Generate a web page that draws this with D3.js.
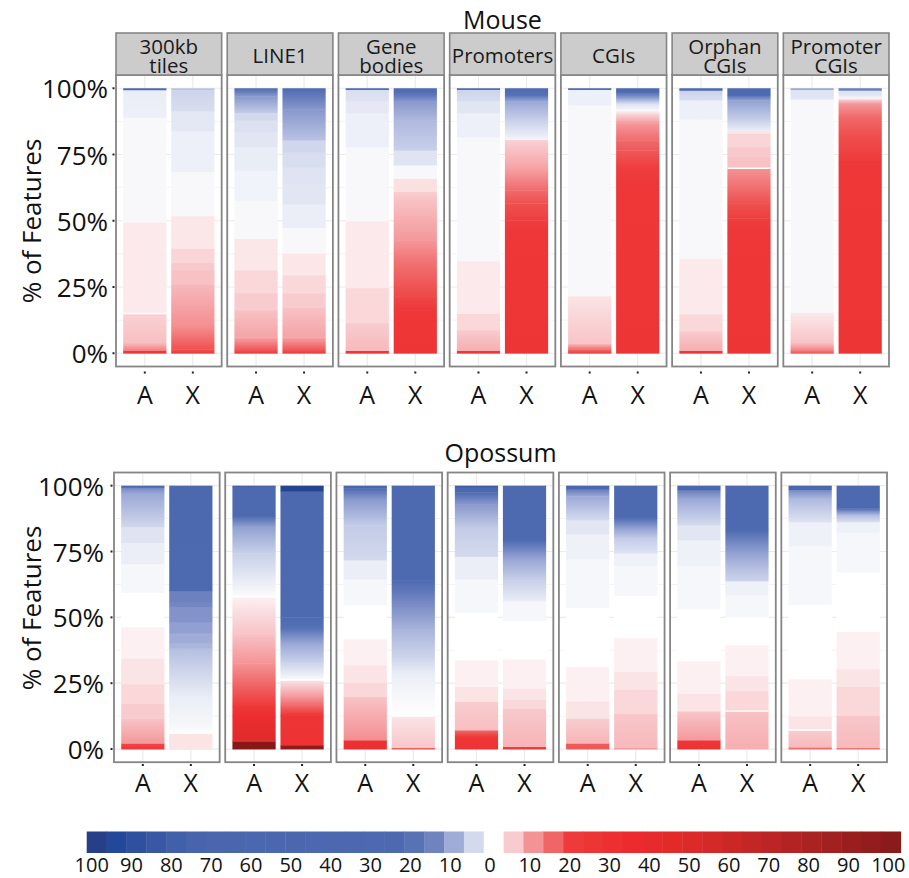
<!DOCTYPE html>
<html>
<head>
<meta charset="utf-8">
<script src="https://cdn.jsdelivr.net/npm/d3@7"></script>
<style>
  body { margin: 0; background: #fff; }
  svg { display: block; font-family: "Open Sans", "Noto Sans", sans-serif; }
</style>
</head>
<body>
<svg id="chart" width="909" height="878"></svg>
<script>
// ---- data ----
const species = ['Mouse', 'Opossum'];
const features = [['300kb', 'tiles'], ['LINE1'], ['Gene', 'bodies'], ['Promoters'], ['CGIs'], ['Orphan', 'CGIs'], ['Promoter', 'CGIs']];
const chromosomes = ['A', 'X'];
const yTicks = [0, 0.25, 0.5, 0.75, 1];
const legendTicks = [-100, -90, -80, -70, -60, -50, -40, -30, -20, -10, 0, 10, 20, 30, 40, 50, 60, 70, 80, 90, 100];

// each bar: knots [cumulative % from bottom, value]; value < 0 blue, > 0 red
const mouseA = [
  [[0,20],[1,20],[1,10],[4,3.5],[15,2],[15,0.8],[49.5,0.8],[49.5,-0.25],[89,-0.25],[89,-1],[99.4,-1.2],[99.4,-20],[100,-20]],
  [[0,20],[1,15],[6,6],[16.3,3.2],[16.3,2.5],[22.8,2.5],[22.8,1.6],[31.4,1.6],[31.4,0.9],[43.3,0.9],[43.3,-0.25],[57.6,-0.25],[57.6,-0.8],[69,-0.8],[69,-1.2],[77.9,-1.2],[77.9,-1.6],[83.5,-1.6],[83.5,-2],[88,-2],[88,-2.6],[90.8,-2.6],[90.8,-4],[97,-10],[100,-20]],
  [[0,20],[1,20],[1,4],[11.5,2.4],[11.5,1.6],[24.7,1.6],[24.7,0.8],[49.9,0.8],[49.9,-0.25],[77.9,-0.25],[77.9,-1],[90.7,-1],[90.7,-1.4],[95.1,-1.4],[95.1,-1.8],[99.5,-2.2],[99.5,-20],[100,-20]],
  [[0,20],[1,20],[1,5],[8.8,2.4],[8.8,1.6],[15,1.6],[15,0.8],[34.8,0.8],[34.8,-0.25],[81.6,-0.25],[81.6,-1],[90.7,-1],[90.7,-1.6],[95.1,-1.6],[95.1,-2.2],[99.5,-3],[99.5,-20],[100,-20]],
  [[0,18],[1.5,12],[3.8,3],[21.6,1],[21.6,-0.25],[93.6,-0.25],[93.6,-1],[99.5,-1],[99.5,-20],[100,-20]],
  [[0,20],[1,20],[1,5],[8.4,2.4],[8.4,1.6],[14.8,1.6],[14.8,0.8],[35.8,0.8],[35.8,-0.25],[88.3,-0.25],[88.3,-1],[95.5,-1],[95.5,-2],[99.2,-3.5],[99.2,-20],[100,-20]],
  [[0,15],[1,10],[4,3],[15.4,0.8],[15.4,-0.25],[95.8,-0.25],[95.8,-1.5],[99.5,-2],[99.5,-8],[100,-8]]
];
const mouseX = [
  [[0,20],[1.5,15],[10,8],[26.1,4],[26.1,3.2],[31.4,3.2],[31.4,2.6],[34.2,2.6],[34.2,1.8],[39.6,1.8],[39.6,0.9],[51.8,0.9],[51.8,-0.25],[68.5,-0.25],[68.5,-1],[83.8,-1],[83.8,-1.5],[91.4,-1.5],[91.4,-2.2],[99.5,-3],[99.5,-5],[100,-5]],
  [[0,20],[1,15],[6,6],[17.2,3.2],[17.2,2.5],[22.7,2.5],[22.7,1.6],[29.5,1.6],[29.5,0.9],[37.8,0.9],[37.8,-0.25],[47.4,-0.25],[47.4,-1.1],[56.3,-1.1],[56.3,-1.6],[64.3,-1.6],[64.3,-1.8],[70.3,-1.8],[70.3,-2.2],[76,-2.2],[76,-2.8],[80.4,-2.8],[80.4,-5],[92,-10],[100,-20]],
  [[0,22],[16.3,20],[21.4,16],[34.8,11],[42.7,7],[58,3.2],[61,2.2],[61,1.2],[66,1.2],[66,-0.25],[71,-0.25],[71,-1.8],[76.6,-1.8],[76.6,-3.5],[88,-6],[95,-10],[98,-18],[100,-20]],
  [[0,22],[45.8,20],[50.2,17],[56.6,15],[61.5,12],[70,6],[80.6,2],[80.6,-0.5],[81.6,-1],[88,-3.5],[95,-8],[97.5,-18],[100,-22]],
  [[0,22],[64,20],[70.3,17],[76.6,14],[80.4,12],[86.7,7],[90.5,1.5],[91.7,-0.25],[94.2,-2],[96.3,-9],[98.7,-20],[100,-25]],
  [[0,22],[45.8,20],[50.9,17],[56.5,15],[61.6,12],[69.8,7.5],[69.8,3.2],[74.1,3.2],[74.1,2.6],[77.9,2.6],[77.9,1.8],[82.9,1.8],[82.9,1],[83.6,1],[83.9,-1],[88,-3.5],[95.5,-9],[97.5,-20],[100,-22]],
  [[0,22],[71.4,20],[74.1,17],[82.9,15],[89.2,12],[94.2,7],[95.8,2],[96.3,-0.25],[97.5,-1.6],[99,-2],[99.3,-12],[100,-15]]
];
const opossumA = [
  [[0,20],[2.2,16],[2.2,7],[11.7,3],[11.7,2.4],[17.2,2.4],[17.2,1.6],[24.7,1.6],[24.7,1],[34.5,1],[34.5,0.5],[46.4,0.5],[46.4,0],[59.4,0],[59.4,-0.5],[70.3,-0.5],[70.3,-1.1],[78.4,-1.1],[78.4,-1.8],[84.4,-1.8],[84.4,-2.8],[97,-8],[99.3,-12],[99.3,-20],[100,-20]],
  [[0,100],[2.8,100],[2.8,50],[3.4,45],[12.3,30],[16.1,20],[23.7,13],[32.5,7.5],[43.9,3],[57.8,0.5],[57.8,-0.1],[59.1,-0.2],[65.4,-1.5],[74.3,-3.5],[84.4,-9],[88.5,-20],[99.3,-25],[99.3,-75],[100,-75]],
  [[0,30],[3.4,25],[3.4,8],[19.9,3],[19.9,1.6],[25.2,1.6],[25.2,1],[31.9,1],[31.9,0.5],[41.8,0.5],[41.8,0],[54.7,0],[54.7,-0.5],[64.5,-0.5],[64.5,-1.1],[71.8,-1.1],[71.8,-2.6],[85,-4],[95,-10],[99,-25],[99.5,-30],[99.5,-70],[100,-70]],
  [[0,25],[4.7,20],[7.2,12],[7.2,3.5],[18,2.4],[18,1],[23.7,1],[23.7,0.5],[33.8,0.5],[33.8,0],[51.8,0],[51.8,-0.5],[64.5,-0.5],[64.5,-1.1],[73.1,-1.1],[73.1,-2.4],[84,-4],[93,-10],[97.5,-20],[99.5,-30],[99.5,-80],[100,-80]],
  [[0,14],[2.2,14],[2.2,4.5],[11.7,2.3],[11.7,1],[18.2,1],[18.2,0.5],[31.3,0.5],[31.3,0],[53.7,0],[53.7,-0.5],[72.2,-0.5],[72.2,-0.9],[81.7,-0.9],[81.7,-1.6],[87,-1.6],[87,-2.4],[96,-8],[98.7,-15],[98.7,-60],[100,-60]],
  [[0,25],[3.4,20],[3.4,7],[14.4,2.8],[14.4,1],[21.1,1],[21.1,0.5],[33.4,0.5],[33.4,0],[53.2,0],[53.2,-0.5],[69.6,-0.5],[69.6,-0.9],[79.4,-0.9],[79.4,-1.6],[85,-1.6],[85,-2.4],[95,-8],[98.5,-15],[98.5,-60],[100,-60]],
  [[0,12],[0.7,12],[0.7,4],[7.2,2.4],[7.2,1],[12.5,1],[12.5,0.5],[26.6,0.5],[26.6,0],[54.9,0],[54.9,-0.5],[77.1,-0.5],[77.1,-0.9],[86.2,-0.9],[86.2,-1.8],[95,-6],[98.5,-12],[98.5,-60],[100,-60]]
];
const opossumX = [
  [[0,1],[6,1],[6,-0.05],[8.5,-0.3],[20,-1.2],[30,-3],[38.2,-5.5],[38.2,-6.5],[40.1,-6.5],[40.1,-7.5],[43.9,-7.5],[43.9,-9],[48.3,-9],[48.3,-10.5],[53.8,-10.5],[53.8,-12],[55.9,-12],[55.9,-13],[60.1,-13],[60.1,-25],[100,-30]],
  [[0,95],[1.5,95],[1.5,25],[12.9,22],[16,13],[19.9,7],[26.2,1],[26.2,-0.2],[26.8,-0.3],[32.5,-3],[40,-8],[46,-18],[50,-25],[98,-30],[98,-95],[100,-95]],
  [[0,15],[0.5,15],[0.5,2.8],[12.5,1],[12.5,-0.05],[19.9,-0.3],[28.7,-1.2],[35,-3],[45,-6.5],[56,-12],[64,-20],[99.5,-25],[99.5,-60],[100,-60]],
  [[0,20],[0.9,20],[0.9,4.5],[15.5,2.6],[15.5,1.6],[18.9,1.6],[18.9,1],[23.1,1],[23.1,0.5],[34.2,0.5],[34.2,0],[48.6,0],[48.6,-0.5],[56.2,-0.5],[56.2,-1.2],[64,-3.5],[71.8,-8],[79.4,-20],[100,-25]],
  [[0,7],[0.5,7],[0.5,4],[13.6,2.8],[13.6,1.6],[22.7,1.6],[22.7,1],[29.4,1],[29.4,0.5],[42.3,0.5],[42.3,0],[58.2,0],[58.2,-0.5],[69.6,-0.5],[69.6,-0.9],[74.3,-0.9],[74.3,-1.8],[80,-4],[84,-9],[87.9,-20],[100,-25]],
  [[0,5],[14.4,3.2],[14.4,1.6],[22.1,1.6],[22.1,1],[27.8,1],[27.8,0.5],[39.5,0.5],[39.5,0],[50.2,0],[50.2,-0.5],[58.5,-0.5],[58.5,-0.9],[63.8,-0.9],[63.8,-3],[70,-6],[76,-10],[83.2,-20],[100,-25]],
  [[0,12],[0.5,12],[0.5,4],[12.7,2.8],[12.7,1.6],[23.7,1.6],[23.7,1],[30.4,1],[30.4,0.5],[44.6,0.5],[44.6,0],[67.2,0],[67.2,-0.5],[82.4,-0.5],[82.4,-0.9],[86.2,-0.9],[86.2,-2],[89,-6],[91.4,-20],[100,-25]]
];
// thin white seams visible in some bars (% position)
const mouseBreaksA = [[15], [], [], [], [], [], []];
const mouseBreaksX = [[], [], [], [], [], [69.8], []];
const opossumBreaksA = [[], [57.8], [], [], [], [], [7.2]];
const opossumBreaksX = [[6], [26.2], [12.5], [], [], [14.4], []];

// ---- colour scale (diverging, blue = negative, red = positive) ----
const blueStops = [[0.25,'#f8f8fa'],[0.5,'#f5f7fb'],[1,'#edf0f8'],[1.6,'#e2e6f3'],[2.4,'#d5dbee'],[3,'#cdd4eb'],[7.5,'#a0acd8'],[12.5,'#6f83bf'],[20,'#4d6ab1'],[70,'#4a66ae'],[77.5,'#425fa9'],[82.5,'#3957a5'],[87.5,'#2f509f'],[92.5,'#23489a'],[97.5,'#263f88'],[100,'#253c84']];
const redStops = [[0,'#ffffff'],[0.5,'#fcf0f2'],[1,'#fbe4e6'],[1.6,'#fad8da'],[2.4,'#f8cccf'],[3,'#f8c4c7'],[7.5,'#f49395'],[12.5,'#f06566'],[17.5,'#ee3a3a'],[32.5,'#ed2a2e'],[47.5,'#dc2a2a'],[62.5,'#c42626'],[77.5,'#aa2222'],[97.5,'#8b1a1a'],[100,'#871818']];
const cDom = [], cRng = [];
blueStops.slice().reverse().forEach(([v, c]) => { cDom.push(-v); cRng.push(c); });
redStops.forEach(([v, c]) => { cDom.push(v); cRng.push(c); });
const colour = d3.scaleLinear().domain(cDom).range(cRng).interpolate(d3.interpolateRgb).clamp(true);

const svg = d3.select('#chart');
const defs = svg.append('defs');

const rows = [
  { name: 'Mouse', A: mouseA, X: mouseX, bA: mouseBreaksA, bX: mouseBreaksX,
    left: 116, right: 889, top: 75, bottom: 366.5, titleY: 19, strip: true,
    tickY: 372.5, labelY: 394, yTitle: 221, yLabelX: 108 },
  { name: 'Opossum', A: opossumA, X: opossumX, bA: opossumBreaksA, bX: opossumBreaksX,
    left: 114, right: 887, top: 472.5, bottom: 762.2, titleY: 452, strip: false,
    tickY: 765, labelY: 782, yTitle: 608, yLabelX: 104 }
];

const border = '#858585';
let gid = 0;

rows.forEach((row, r) => {
  const fx = d3.scaleBand().domain(d3.range(features.length)).range([row.left, row.right])
    .paddingInner(0.05).paddingOuter(0);
  const y = d3.scaleLinear().domain([-0.05, 1.05]).range([row.bottom, row.top]);
  const g = svg.append('g');

  // species title
  g.append('text').attr('x', (row.left + row.right) / 2).attr('y', row.titleY)
    .attr('text-anchor', 'middle').attr('dominant-baseline', 'central')
    .style('font-size', '25px').style('fill', '#111').text(row.name);

  // y axis
  yTicks.forEach(t => {
    g.append('text').attr('x', row.yLabelX).attr('y', y(t))
      .attr('text-anchor', 'end').attr('dominant-baseline', 'central')
      .style('font-size', '26px').style('fill', '#111').text(d3.format('.0%')(t));
    g.append('rect').attr('x', row.left - 3.5).attr('y', y(t) - 1).attr('width', 2).attr('height', 2).attr('fill', '#222');
  });
  g.append('text')
    .attr('transform', `translate(31,${row.yTitle}) rotate(-90)`)
    .attr('text-anchor', 'middle').attr('dominant-baseline', 'central')
    .style('font-size', '26px').style('fill', '#111').text('% of Features');

  features.forEach((feat, i) => {
    const px = fx(i), pw = fx.bandwidth();
    const x = d3.scaleBand().domain(chromosomes).range([px, px + pw]).paddingInner(0.1).paddingOuter(0.15);
    const p = g.append('g');

    // grid
    [0.125, 0.375, 0.625, 0.875].forEach(t => p.append('line')
      .attr('x1', px).attr('x2', px + pw).attr('y1', y(t)).attr('y2', y(t))
      .attr('stroke', '#f4f4f4').attr('stroke-width', 1));
    yTicks.forEach(t => p.append('line')
      .attr('x1', px).attr('x2', px + pw).attr('y1', y(t)).attr('y2', y(t))
      .attr('stroke', '#ebebeb').attr('stroke-width', 1.2));
    chromosomes.forEach(c => p.append('line')
      .attr('x1', x(c) + x.bandwidth() / 2).attr('x2', x(c) + x.bandwidth() / 2)
      .attr('y1', row.top).attr('y2', row.bottom)
      .attr('stroke', '#ebebeb').attr('stroke-width', 1.2));

    // stacked bars
    chromosomes.forEach(c => {
      const knots = row[c][i];
      const bx = x(c), bw = x.bandwidth();
      for (let k = 0; k < knots.length - 1; k++) {
        const [p0, v0] = knots[k], [p1, v1] = knots[k + 1];
        if (p1 <= p0) continue;
        const yTop = y(p1 / 100), yBot = y(p0 / 100);
        let fill;
        if (v0 === v1) {
          fill = colour(v0);
        } else {
          const id = 'gr' + (gid++);
          const lg = defs.append('linearGradient').attr('id', id)
            .attr('x1', 0).attr('y1', 1).attr('x2', 0).attr('y2', 0);
          lg.append('stop').attr('offset', 0).attr('stop-color', colour(v0));
          lg.append('stop').attr('offset', 1).attr('stop-color', colour(v1));
          fill = `url(#${id})`;
        }
        p.append('rect').attr('x', bx).attr('width', bw)
          .attr('y', yTop).attr('height', Math.max(0, yBot - yTop + 0.4))
          .attr('fill', fill);
      }
      row['b' + c][i].forEach(b => p.append('line')
        .attr('x1', bx).attr('x2', bx + bw).attr('y1', y(b / 100)).attr('y2', y(b / 100))
        .attr('stroke', '#fff').attr('stroke-width', 1.4));

      // x tick + label
      p.append('rect').attr('x', bx + bw / 2 - 1).attr('y', row.tickY - 1).attr('width', 2).attr('height', 2).attr('fill', '#222');
      p.append('text').attr('x', bx + bw / 2).attr('y', row.labelY)
        .attr('text-anchor', 'middle').attr('dominant-baseline', 'central')
        .style('font-size', '25px').style('fill', '#111').text(c);
    });

    // panel border
    p.append('rect').attr('x', px).attr('y', row.top).attr('width', pw).attr('height', row.bottom - row.top)
      .attr('fill', 'none').attr('stroke', border).attr('stroke-width', 1.8);

    // facet strip (multi-line label kept as one text element)
    if (row.strip) {
      p.append('rect').attr('x', px).attr('y', 33).attr('width', pw).attr('height', row.top - 33)
        .attr('fill', '#cccccc').attr('stroke', border).attr('stroke-width', 1.6);
      const lh = 19;
      const cy = (33 + row.top) / 2 + 1;
      const txt = p.append('text').attr('text-anchor', 'middle')
        .style('font-size', '20.5px').style('fill', '#1a1a1a');
      feat.forEach((ln, j) => txt.append('tspan')
        .attr('x', px + pw / 2)
        .attr('y', cy + (j - (feat.length - 1) / 2) * lh)
        .attr('dominant-baseline', 'central')
        .text(ln));
    }
  });
});

// ---- legend (binned colour bar) ----
const lx = d3.scaleLinear().domain([-102.5, 102.5]).range([86.7, 900.7]);
const lt = d3.scaleLinear().domain([-100, 100]).range([91.7, 888.3]);
const cellW = lx(5) - lx(0);
const leg = svg.append('g');
d3.range(-100, 101, 5).forEach(cv => {
  const v = cv === 0 ? 0 : Math.sign(cv) * (Math.abs(cv) - 2.5);
  leg.append('rect').attr('x', lx(cv) - cellW / 2).attr('y', 831.5)
    .attr('width', cellW + 0.4).attr('height', 21.5)
    .attr('fill', cv === 0 ? '#ffffff' : colour(v));
});
legendTicks.forEach(t => leg.append('text')
  .attr('x', lt(t)).attr('y', 871.5).attr('text-anchor', 'middle')
  .style('font-size', '20px').style('fill', '#111').text(Math.abs(t)));
</script>
</body>
</html>
